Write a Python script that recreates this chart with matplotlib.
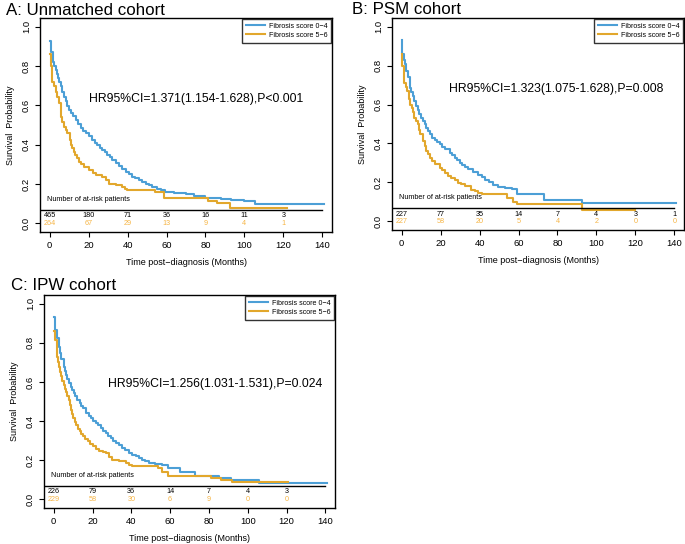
import matplotlib
matplotlib.use("Agg")
import matplotlib.pyplot as plt

plt.rcParams['font.family'] = ['Liberation Sans', 'DejaVu Sans']

# colours
blue = '#4c9fd6'
orange = '#e2a72c'
orange_txt = '#f6b545'

# ---- data ----
# A: unmatched cohort
a_t_low = [0, 0.8, 1.7, 2.4, 3.1, 3.7, 4.3, 5.0, 5.6, 6.4, 7.3, 8.2, 9.1, 10, 10.8, 12, 13.3,
           14.6, 15.9, 17.2, 18.5, 20, 21.9, 23, 24.4, 25.7, 27, 28.3, 29.6, 31, 32.1, 34,
           35.6, 37.3, 39, 40.7, 42.4, 44, 45.8, 47.5, 49.2, 51, 52.6, 55, 57, 59, 64, 70,
           74, 80, 84, 88, 93, 100, 105.5, 141]
a_s_low = [0.93, 0.87, 0.82, 0.80, 0.78, 0.76, 0.74, 0.72, 0.70, 0.67, 0.645, 0.62, 0.595,
           0.575, 0.56, 0.545, 0.525, 0.505, 0.485, 0.47, 0.46, 0.445, 0.425, 0.41, 0.40,
           0.385, 0.372, 0.36, 0.347, 0.335, 0.322, 0.305, 0.29, 0.275, 0.262, 0.25, 0.237,
           0.228, 0.219, 0.21, 0.202, 0.193, 0.185, 0.175, 0.168, 0.16, 0.155, 0.15, 0.138,
           0.13, 0.127, 0.122, 0.118, 0.112, 0.10, 0.10]
a_t_high = [0, 0.5, 1.4, 2.2, 3.0, 3.9, 4.8, 5.6, 6.5, 7.3, 8.2, 9.1, 10.3, 11.0, 11.6, 12.3,
            13, 14, 15, 16.3, 17.6, 20.2, 22, 23.6, 27, 28.7, 30.4, 33.8, 37.3, 38.5, 39.8,
            54, 58.5, 81.5, 86, 92.6, 122]
a_s_high = [0.86, 0.80, 0.72, 0.70, 0.67, 0.645, 0.61, 0.54, 0.515, 0.49, 0.475, 0.458, 0.423,
            0.40, 0.381, 0.365, 0.347, 0.33, 0.313, 0.30, 0.287, 0.27, 0.255, 0.245, 0.236,
            0.22, 0.202, 0.194, 0.185, 0.175, 0.168, 0.16, 0.13, 0.115, 0.105, 0.077, 0.077]
a_risk_low = [465, 180, 71, 36, 16, 11, 3]
a_risk_high = [264, 67, 29, 13, 9, 4, 1]
a_hr = 'HR95%CI=1.371(1.154-1.628),P<0.001'

# B: PSM cohort
b_t_low = [0, 0.3, 1.0, 1.7, 2.4, 3.1, 4.3, 5.0, 5.7, 6.5, 7.4, 8.2, 9.1, 10.0, 10.8, 11.7,
           12.6, 13.4, 14.3, 15.6, 16.9, 18.2, 19.5, 20.8, 22, 24.6, 26, 27.2, 28.5, 29.8,
           31, 32.4, 34, 36.7, 39, 41, 43, 45, 47, 49.6, 53, 56.5, 59, 73, 92.6, 141]
b_s_low = [0.93, 0.86, 0.83, 0.807, 0.77, 0.74, 0.687, 0.665, 0.644, 0.62, 0.593, 0.57,
           0.55, 0.53, 0.515, 0.50, 0.481, 0.465, 0.447, 0.43, 0.42, 0.407, 0.395, 0.382,
           0.369, 0.352, 0.34, 0.326, 0.313, 0.30, 0.29, 0.28, 0.27, 0.255, 0.24, 0.225,
           0.21, 0.20, 0.185, 0.177, 0.172, 0.165, 0.14, 0.11, 0.094, 0.094]
b_t_high = [0, 0.3, 1.4, 2.1, 2.8, 3.9, 4.5, 5.2, 5.8, 6.5, 7.4, 8.3, 9.0, 9.6, 10.8, 11.7,
            12.6, 13.4, 14.3, 15.6, 16.9, 19.5, 20.8, 22, 23.8, 25.5, 27.2, 28.9, 30.6, 32.4,
            35.8, 37.5, 39.2, 41, 54, 57, 59, 92.6, 120]
b_s_high = [0.86, 0.80, 0.713, 0.69, 0.67, 0.627, 0.60, 0.584, 0.56, 0.533, 0.515, 0.498,
            0.47, 0.447, 0.412, 0.385, 0.361, 0.345, 0.326, 0.31, 0.292, 0.275, 0.262, 0.249,
            0.235, 0.223, 0.21, 0.198, 0.19, 0.18, 0.163, 0.155, 0.146, 0.14, 0.12, 0.10,
            0.087, 0.057, 0.057]
b_risk_low = [227, 77, 35, 14, 7, 4, 3, 1]
b_risk_high = [227, 58, 20, 5, 4, 2, 0, 0]
b_hr = 'HR95%CI=1.323(1.075-1.628),P=0.008'

# C: IPW cohort
c_t_low = [0, 0.8, 1.7, 2.7, 3.3, 3.9, 5.1, 5.8, 6.5, 7.1, 7.8, 8.7, 9.5, 10.3, 11.2, 12.2,
           13.3, 14.1, 15, 16.7, 18, 19.3, 20.5, 21.8, 23, 24.4, 25.6, 26.9, 28.2, 29.5,
           30.8, 32, 33.7, 35.4, 37, 38.8, 40.5, 42.2, 44, 45.6, 47.3, 49, 52, 55.7, 59, 65,
           73, 85, 91.5, 106, 141]
c_s_low = [0.93, 0.866, 0.823, 0.781, 0.75, 0.72, 0.679, 0.655, 0.636, 0.615, 0.594, 0.575,
           0.56, 0.543, 0.526, 0.51, 0.492, 0.478, 0.466, 0.44, 0.428, 0.415, 0.40, 0.39,
           0.378, 0.364, 0.35, 0.338, 0.325, 0.313, 0.30, 0.287, 0.275, 0.262, 0.25, 0.236,
           0.228, 0.219, 0.21, 0.202, 0.193, 0.185, 0.18, 0.175, 0.16, 0.14, 0.12, 0.11,
           0.10, 0.085, 0.085]
c_t_high = [0, 0.8, 1.7, 2.2, 2.7, 3.3, 3.9, 4.5, 5.1, 5.8, 6.5, 7.1, 7.8, 8.4, 9.0, 9.6,
            10.2, 10.9, 11.6, 12.4, 13.3, 14.2, 15, 16.2, 17.5, 18.8, 20.1, 21.8, 23.5, 25.2,
            26.9, 28.6, 30.3, 33.7, 37.1, 38.8, 40.5, 54, 55.7, 59, 81, 86, 92, 121]
c_s_high = [0.86, 0.815, 0.73, 0.70, 0.679, 0.65, 0.628, 0.605, 0.585, 0.565, 0.55, 0.53,
            0.508, 0.48, 0.457, 0.435, 0.415, 0.395, 0.38, 0.36, 0.347, 0.333, 0.321, 0.31,
            0.296, 0.283, 0.27, 0.257, 0.245, 0.24, 0.236, 0.218, 0.202, 0.194, 0.185, 0.175,
            0.168, 0.16, 0.14, 0.12, 0.11, 0.10, 0.087, 0.087]
c_risk_low = [226, 79, 36, 14, 7, 4, 3]
c_risk_high = [229, 58, 30, 6, 9, 0, 0]
c_hr = 'HR95%CI=1.256(1.031-1.531),P=0.024'

labels = ['Fibrosis score 0\u22124', 'Fibrosis score 5\u22126']

W, H = 685, 544
fig = plt.figure(figsize=(W / 100, H / 100), dpi=100)


def panel(box, title, title_xy, t1, s1, t2, s2, r1, r2, hr, hr_xy):
    x0, y0, x1, y1 = box  # pixel box (left, top, right, bottom)
    ax = fig.add_axes([x0 / W, 1 - y1 / H, (x1 - x0) / W, (y1 - y0) / H])
    ax.step(t1, s1, where='post', color=blue, lw=1.5, label=labels[0])
    ax.step(t2, s2, where='post', color=orange, lw=1.5, label=labels[1])
    ax.set_xlim(-5, 145)
    ax.set_ylim(-0.045, 1.045)
    ax.set_xticks(range(0, 141, 20))
    ax.set_yticks([0, 0.2, 0.4, 0.6, 0.8, 1.0])
    ax.set_yticklabels(['0.0', '0.2', '0.4', '0.6', '0.8', '1.0'], rotation=90, va='center')
    ax.tick_params(labelsize=6.8, length=3.5, width=0.8, pad=3)
    for sp in ax.spines.values():
        sp.set_linewidth(1.0)
    ax.set_xlabel('Time post\u2212diagnosis (Months)', fontsize=6.5, labelpad=6)
    ax.set_ylabel('Survival  Probability', fontsize=6.5, labelpad=5)

    # risk table
    ax.plot([-5, 140], [0.068, 0.068], color='black', lw=1.0)
    ax.text(-1.5, 0.12, 'Number of at-risk patients', fontsize=5.2, va='center', ha='left')
    for i, (n1, n2) in enumerate(zip(r1, r2)):
        ax.text(i * 20, 0.037, str(n1), fontsize=5.2, ha='center', va='center', color='black')
        ax.text(i * 20, 0.0, str(n2), fontsize=5.2, ha='center', va='center', color=orange_txt)

    ax.text(hr_xy[0], hr_xy[1], hr, fontsize=8.8, ha='center', va='center')

    leg = ax.legend(loc='upper right', fontsize=5.1, frameon=True, fancybox=False,
                    borderaxespad=0.1, handlelength=2.6, borderpad=0.55, labelspacing=0.3,
                    handletextpad=0.6)
    leg.get_frame().set_edgecolor('black')
    leg.get_frame().set_linewidth(1.0)

    fig.text(title_xy[0] / W, 1 - title_xy[1] / H, title, fontsize=12.2, va='baseline')
    return ax


panel((40, 18, 332, 232), 'A: Unmatched cohort', (6, 15),
      a_t_low, a_s_low, a_t_high, a_s_high, a_risk_low, a_risk_high, a_hr, (75, 0.632))
panel((392, 18, 684, 230), 'B: PSM cohort', (352, 14),
      b_t_low, b_s_low, b_t_high, b_s_high, b_risk_low, b_risk_high, b_hr, (79.5, 0.68))
panel((44, 295, 335, 508), 'C: IPW cohort', (11, 290),
      c_t_low, c_s_low, c_t_high, c_s_high, c_risk_low, c_risk_high, c_hr, (83, 0.59))

fig.savefig('out.png', dpi=100)
